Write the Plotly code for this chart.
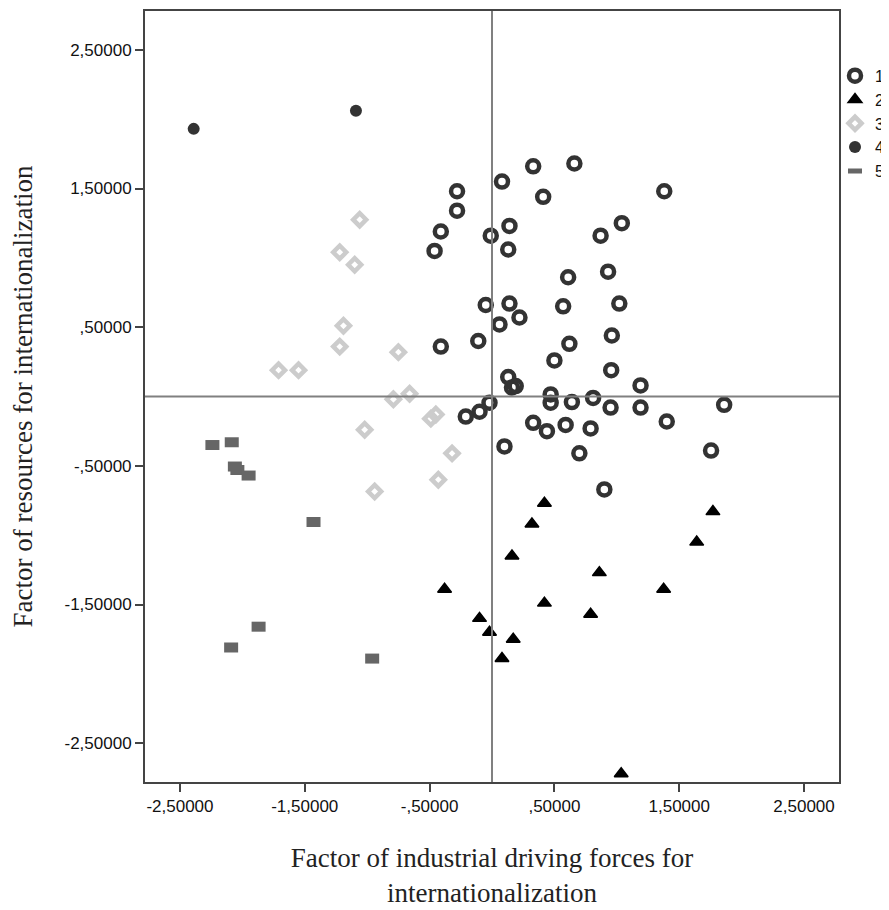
import plotly.graph_objects as go

# Cluster 1 (open circles)
c1_x = [0.33, 0.66, 0.08, 0.41, -0.28, -0.28, -0.41, -0.46, -0.01, 0.14, 0.13, 0.61,
        1.38, 1.04, 0.87, 0.93, 1.02, -0.05, 0.14, 0.22, 0.06, 0.57, -0.11, -0.41,
        0.62, 0.50, 0.96, 0.955, 1.19, 0.13, 0.16, 0.19, 0.47, 0.47, 0.64, 0.81,
        0.95, 1.19, 1.86, -0.02, -0.10, -0.21, 0.33, 0.44, 0.59, 0.79, 1.40, 0.10,
        0.70, 1.755, 0.90]
c1_y = [1.66, 1.68, 1.55, 1.44, 1.48, 1.34, 1.19, 1.05, 1.16, 1.23, 1.06, 0.86,
        1.48, 1.25, 1.16, 0.90, 0.67, 0.66, 0.67, 0.57, 0.52, 0.65, 0.40, 0.36,
        0.38, 0.26, 0.44, 0.19, 0.08, 0.14, 0.065, 0.075, 0.015, -0.045, -0.04, -0.01,
        -0.08, -0.08, -0.06, -0.045, -0.11, -0.145, -0.19, -0.25, -0.205, -0.23, -0.18, -0.36,
        -0.41, -0.39, -0.67]

# Cluster 2 (triangles)
c2_x = [0.42, 0.32, 1.77, 1.64, 0.16, 0.86, -0.38, 1.375, 0.42, 0.79, -0.10, -0.02, 0.17, 0.08, 1.035]
c2_y = [-0.77, -0.92, -0.83, -1.05, -1.15, -1.27, -1.39, -1.39, -1.49, -1.57, -1.60, -1.70, -1.75, -1.89, -2.72]

# Cluster 3 (diamonds)
c3_x = [-1.06, -1.22, -1.10, -1.19, -1.22, -1.71, -1.55, -0.75, -0.79, -0.66, -0.49, -0.45, -1.02, -0.32, -0.43, -0.94]
c3_y = [1.275, 1.04, 0.95, 0.51, 0.36, 0.19, 0.19, 0.32, -0.02, 0.02, -0.16, -0.13, -0.24, -0.41, -0.60, -0.685]

# Cluster 4 (filled dots)
c4_x = [-2.39, -1.09]
c4_y = [1.93, 2.06]

# Cluster 5 (rectangles)
c5_x = [-2.24, -2.085, -2.06, -2.04, -1.95, -1.43, -1.87, -2.09, -0.96]
c5_y = [-0.35, -0.33, -0.505, -0.53, -0.57, -0.905, -1.66, -1.81, -1.89]

tick_vals = [-2.5, -1.5, -0.5, 0.5, 1.5, 2.5]
tick_text = ["-2,50000", "-1,50000", "-,50000", ",50000", "1,50000", "2,50000"]

x_title = "Factor of industrial driving forces for<br>internationalization"
y_title = "Factor of resources for internationalization"

serif = "Liberation Serif, Times New Roman, serif"
sans = "Liberation Sans, Arial, sans-serif"

fig = go.Figure()
fig.add_trace(go.Scatter(x=c1_x, y=c1_y, mode="markers", name="1", legendgroup="1",
                         marker=dict(symbol="circle-open", size=12, color="#333333",
                                     line=dict(width=4.5, color="#333333"))))
fig.add_trace(go.Scatter(x=c2_x, y=c2_y, mode="markers", name="2", legendgroup="2",
                         marker=dict(symbol="triangle-up", size=12, color="#000000",
                                     line=dict(width=1.5, color="#000000"))))
fig.add_trace(go.Scatter(x=c3_x, y=c3_y, mode="markers", name="3", legendgroup="3",
                         marker=dict(symbol="diamond-open", size=10, color="#cccccc",
                                     line=dict(width=4.5, color="#cccccc"))))
fig.add_trace(go.Scatter(x=c4_x, y=c4_y, mode="markers", name="4", legendgroup="4",
                         marker=dict(symbol="circle", size=12, color="#333333",
                                     line=dict(width=0))))
fig.add_trace(go.Scatter(x=c5_x, y=c5_y, mode="markers", name="5", legendgroup="5",
                         marker=dict(symbol="line-ew", size=10, color="#666666",
                                     line=dict(width=10, color="#666666"))))

axis_common = dict(
    range=[-2.78, 2.78], tickvals=tick_vals, ticktext=tick_text,
    showgrid=False, zeroline=False, showline=True, mirror=True,
    linecolor="#444444", linewidth=2, ticks="outside", ticklen=8,
    tickcolor="#444444", tickwidth=1.5,
    tickfont=dict(family=sans, size=17, color="#111111"),
)

fig.update_layout(
    width=881, height=902,
    margin=dict(l=137, r=50, t=3, b=128, autoexpand=False),
    paper_bgcolor="white", plot_bgcolor="white",
    xaxis=dict(**axis_common,
               title=dict(text=x_title, standoff=33,
                          font=dict(family=serif, size=27, color="#222222"))),
    yaxis=dict(**axis_common,
               title=dict(text=y_title, standoff=35,
                          font=dict(family=serif, size=27, color="#222222"))),
    legend=dict(xref="container", x=1.0, xanchor="right", y=0.938, yanchor="top",
                bgcolor="rgba(0,0,0,0)", tracegroupgap=0, itemwidth=30,
                font=dict(family=sans, size=16, color="#111111")),
    shapes=[
        dict(type="line", xref="x", yref="paper", x0=0, x1=0, y0=0, y1=1,
             line=dict(color="#808080", width=2), layer="above"),
        dict(type="line", xref="paper", yref="y", x0=0, x1=1, y0=0, y1=0,
             line=dict(color="#808080", width=2), layer="above"),
    ],
)

fig.write_html("out.html")
